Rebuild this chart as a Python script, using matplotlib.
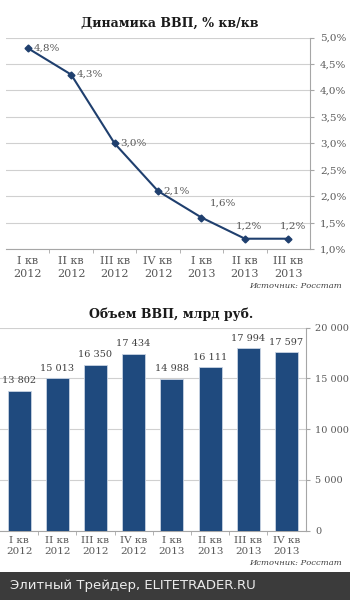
import matplotlib
matplotlib.use("Agg")
import matplotlib.pyplot as plt
from matplotlib.patches import Rectangle

# --- data ---
growth_labels = ["I кв\n2012", "II кв\n2012", "III кв\n2012", "IV кв\n2012",
                 "I кв\n2013", "II кв\n2013", "III кв\n2013"]
growth_pct = [4.8, 4.3, 3.0, 2.1, 1.6, 1.2, 1.2]

gdp_labels = ["I кв\n2012", "II кв\n2012", "III кв\n2012", "IV кв\n2012",
              "I кв\n2013", "II кв\n2013", "III кв\n2013", "IV кв\n2013"]
gdp_bln = [13802, 15013, 16350, 17434, 14988, 16111, 17994, 17597]

LINE_COLOR = "#1f3f6e"
BAR_COLOR = "#1f4a7e"
GRID = "#d0d0d0"
TICK_TXT = "#595959"
SERIF = "DejaVu Serif"


def fmt_pct(v):
    return f"{v:.1f}%".replace(".", ",")


def fmt_thousands(v):
    return f"{int(v):,}".replace(",", " ")


def style_axis(ax):
    ax.yaxis.tick_right()
    for side in ("left", "top"):
        ax.spines[side].set_visible(False)
    for side in ("right", "bottom"):
        ax.spines[side].set_color("#a6a6a6")
    ax.grid(axis="y", color=GRID, linewidth=0.8)
    ax.set_axisbelow(True)
    ax.tick_params(axis="y", which="major", length=3, color="#a6a6a6",
                   labelsize=7.5, labelcolor=TICK_TXT, pad=4)
    ax.tick_params(axis="x", which="major", length=0,
                   labelsize=8, labelcolor=TICK_TXT, pad=5)
    ax.tick_params(axis="x", which="minor", length=3, color="#a6a6a6")
    for lbl in ax.get_xticklabels() + ax.get_yticklabels():
        lbl.set_fontfamily(SERIF)


fig = plt.figure(figsize=(3.5, 6.0), dpi=100)

# --- top: quarterly growth ---
ax1 = fig.add_axes([0.017, 0.5845, 0.869, 0.353])
x1 = list(range(len(growth_pct)))
ax1.plot(x1, growth_pct, color=LINE_COLOR, linewidth=1.5, marker="D",
         markersize=3.5, zorder=3)
ax1.set_xlim(-0.5, len(growth_pct) - 0.5)
ax1.set_ylim(1.0, 5.0)
ax1.set_yticks([1.0, 1.5, 2.0, 2.5, 3.0, 3.5, 4.0, 4.5, 5.0])
ax1.set_yticklabels([fmt_pct(v) for v in ax1.get_yticks()])
ax1.set_xticks(x1)
ax1.set_xticklabels(growth_labels, linespacing=1.3)
ax1.set_xticks([i + 0.5 for i in x1[:-1]], minor=True)
style_axis(ax1)

offsets = [(4, 0, "left", "center")] * 4 + [(6, 7, "left", "bottom"),
                                             (3, 6, "center", "bottom"),
                                             (3, 6, "center", "bottom")]
for xi, v, (dx, dy, ha, va) in zip(x1, growth_pct, offsets):
    ax1.annotate(fmt_pct(v), xy=(xi, v), xytext=(dx, dy),
                 textcoords="offset points", ha=ha, va=va,
                 fontsize=7.5, color=TICK_TXT, family=SERIF)

fig.text(0.485, 0.962, "Динамика ВВП, % кв/кв", ha="center", va="center",
         fontsize=9, fontweight="bold", family=SERIF, color="#1a1a1a")
fig.text(0.977, 0.523, "Источник: Росстат", ha="right", va="center",
         fontsize=6, style="italic", family=SERIF, color="#404040")

# --- bottom: GDP volume ---
ax2 = fig.add_axes([0.0, 0.1155, 0.873, 0.3383])
x2 = list(range(len(gdp_bln)))
ax2.bar(x2, gdp_bln, width=0.6, color=BAR_COLOR, edgecolor="#c8d3e3",
        linewidth=0.6, zorder=3)
ax2.set_xlim(-0.5, len(gdp_bln) - 0.5)
ax2.set_ylim(0, 20000)
ax2.set_yticks([0, 5000, 10000, 15000, 20000])
ax2.set_yticklabels([fmt_thousands(v) for v in ax2.get_yticks()])
ax2.set_xticks(x2)
ax2.set_xticklabels(gdp_labels, linespacing=1.3)
ax2.set_xticks([i + 0.5 for i in x2[:-1]], minor=True)
style_axis(ax2)
ax2.tick_params(axis="y", labelsize=7)
ax2.tick_params(axis="x", labelsize=7.5, pad=4)

for xi, v in zip(x2, gdp_bln):
    ax2.annotate(fmt_thousands(v), xy=(xi, v), xytext=(0, 4),
                 textcoords="offset points", ha="center", va="bottom",
                 fontsize=7, color="#404040", family=SERIF)

fig.text(0.49, 0.477, "Объем ВВП, млрд руб.", ha="center", va="center",
         fontsize=9, fontweight="bold", family=SERIF, color="#1a1a1a")
fig.text(0.977, 0.062, "Источник: Росстат", ha="right", va="center",
         fontsize=6, style="italic", family=SERIF, color="#404040")

# --- footer band ---
fig.patches.append(Rectangle((0, 0), 1, 28 / 600, transform=fig.transFigure,
                             facecolor="#3b3b3b", edgecolor="none", zorder=0))
fig.text(10 / 350, 14 / 600, "Элитный Трейдер, ELITETRADER.RU", ha="left",
         va="center", fontsize=9.5, color="#ececec", family="DejaVu Sans")

fig.savefig("out.png", dpi=100, facecolor="white")
